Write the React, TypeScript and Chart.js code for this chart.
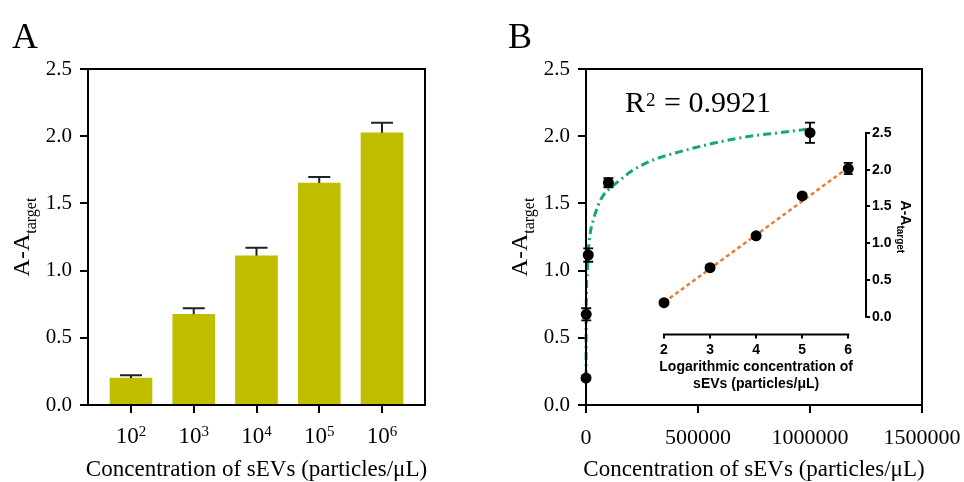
import React, { useEffect, useRef } from 'react';
import { Chart, registerables } from 'chart.js';

Chart.register(...registerables);

const SERIF = "'Liberation Serif', 'Times New Roman', serif";
const SANS = "'Liberation Sans', Arial, sans-serif";
const BLACK = '#000000';
const BAR_COLOR = '#BFBF00';
const FIT_COLOR = '#14A874';
const LIN_COLOR = '#EC7A32';

// ---------- Panel A ----------
const A_BASE = '10';
const A_EXPONENTS = ['2', '3', '4', '5', '6'];
const A_POSITIONS = [0, 1, 2, 3, 4];
const A_VALUES = [0.2, 0.675, 1.11, 1.652, 2.026];
const A_ERRORS = [0.022, 0.045, 0.06, 0.045, 0.075];
const Y_TICKS = [0, 0.5, 1.0, 1.5, 2.0, 2.5];

// ---------- Panel B ----------
const B_X = [100, 1000, 10000, 100000, 1000000];
const B_Y = [0.2, 0.675, 1.116, 1.654, 2.026];
const B_ERRORS = [0.015, 0.045, 0.05, 0.034, 0.075];
const B_X_TICKS = [0, 500000, 1000000, 1500000];
const FIT_X = [100, 1000, 5000, 10000, 20000, 32600, 54900, 77200, 107000, 152000, 211000, 300000, 420000, 568000, 717000, 866000, 1000000];
const FIT_Y = [0.2, 0.68, 0.97, 1.14, 1.29, 1.376, 1.488, 1.56, 1.612, 1.674, 1.749, 1.823, 1.885, 1.947, 1.996, 2.026, 2.055];
const R2_TEXT = '0.9921';

// ---------- Inset ----------
const LOG_X = [2, 3, 4, 5, 6];
const LOG_Y = [0.19, 0.667, 1.1, 1.644, 2.016];
const LOG_ERRORS = [0.02, 0.03, 0.03, 0.03, 0.077];
const LOG_X_TICKS = [2, 3, 4, 5, 6];
const LOG_Y_TICKS = [0, 0.5, 1.0, 1.5, 2.0, 2.5];
const LIN_X = [2, 6];
const LIN_Y = [0.195, 2.03];

const X_TITLE = 'Concentration of sEVs (particles/μL)';
const INSET_X_TITLE = ['Logarithmic concentration of', 'sEVs (particles/μL)'];

function drawSubText(ctx: CanvasRenderingContext2D, x: number, y: number, main: string, sub: string, font: string, subFont: string, angle: number, subShift: number) {
  ctx.save();
  ctx.translate(x, y);
  ctx.rotate(angle);
  ctx.textBaseline = 'alphabetic';
  ctx.textAlign = 'left';
  ctx.font = font;
  const w1 = ctx.measureText(main).width;
  ctx.font = subFont;
  const w2 = ctx.measureText(sub).width;
  const start = -(w1 + w2) / 2;
  ctx.fillStyle = BLACK;
  ctx.font = font;
  ctx.fillText(main, start, 0);
  ctx.font = subFont;
  ctx.fillText(sub, start + w1, subShift);
  ctx.restore();
}

function drawErrorBars(ctx: CanvasRenderingContext2D, xs: any, ys: any, xv: number[], yv: number[], ev: number[], half: number, upOnly: boolean, width: number, color: string) {
  ctx.save();
  ctx.strokeStyle = color;
  ctx.lineWidth = width;
  xv.forEach((x, i) => {
    const px = xs.getPixelForValue(x);
    const top = ys.getPixelForValue(yv[i] + ev[i]);
    const bot = upOnly ? ys.getPixelForValue(yv[i]) : ys.getPixelForValue(yv[i] - ev[i]);
    ctx.beginPath();
    ctx.moveTo(px, bot);
    ctx.lineTo(px, top);
    ctx.moveTo(px - half, top);
    ctx.lineTo(px + half, top);
    if (!upOnly) {
      ctx.moveTo(px - half, bot);
      ctx.lineTo(px + half, bot);
    }
    ctx.stroke();
  });
  ctx.restore();
}

function drawFrame(ctx: CanvasRenderingContext2D, ca: any) {
  ctx.save();
  ctx.strokeStyle = BLACK;
  ctx.lineWidth = 2;
  ctx.strokeRect(ca.left, ca.top, ca.right - ca.left, ca.bottom - ca.top);
  ctx.restore();
}

const yTickOptions = {
  min: 0,
  max: 2.5,
  afterBuildTicks: (s: any) => { s.ticks = Y_TICKS.map((v) => ({ value: v })); },
  afterFit: (s: any) => { s.width = 60; s.paddingTop = 0; s.paddingBottom = 0; },
  grid: { drawOnChartArea: false, drawTicks: true, tickLength: 8, color: BLACK, lineWidth: 2 },
  border: { display: true, color: BLACK, width: 2 },
  ticks: { color: BLACK, font: { family: SERIF, size: 21 }, padding: 8, callback: (v: any) => Number(v).toFixed(1) },
};

const baseOptions = {
  animation: false as const,
  responsive: false,
  devicePixelRatio: 1,
  events: [] as any[],
  plugins: { legend: { display: false }, tooltip: { enabled: false } },
};

function ChartCanvas({ config, style }: { config: () => any; style: React.CSSProperties }) {
  const ref = useRef<HTMLCanvasElement>(null);
  useEffect(() => {
    if (!ref.current) return;
    const chart = new Chart(ref.current, config());
    return () => chart.destroy();
  }, []);
  return <canvas ref={ref} width={482} height={482} style={{ position: 'absolute', width: 482, height: 482, ...style }} />;
}

function configA() {
  const plugin = {
    id: 'panelA',
    afterDatasetsDraw(chart: any) {
      const { ctx, chartArea: ca, scales } = chart;
      drawErrorBars(ctx, scales.x, scales.y, A_POSITIONS, A_VALUES, A_ERRORS, 11, true, 2, '#222');
      drawFrame(ctx, ca);
    },
    afterDraw(chart: any) {
      const { ctx, chartArea: ca, scales } = chart;
      ctx.save();
      ctx.fillStyle = BLACK;
      ctx.textBaseline = 'alphabetic';
      ctx.textAlign = 'left';
      A_POSITIONS.forEach((p, i) => {
        const px = scales.x.getPixelForValue(p);
        ctx.font = `23px ${SERIF}`;
        const w1 = ctx.measureText(A_BASE).width;
        ctx.font = `15px ${SERIF}`;
        const w2 = ctx.measureText(A_EXPONENTS[i]).width;
        const start = px - (w1 + w2) / 2;
        ctx.font = `23px ${SERIF}`;
        ctx.fillText(A_BASE, start, ca.bottom + 38);
        ctx.font = `15px ${SERIF}`;
        ctx.fillText(A_EXPONENTS[i], start + w1, ca.bottom + 31);
      });
      ctx.font = `23px ${SERIF}`;
      ctx.textAlign = 'center';
      ctx.fillText(X_TITLE, (ca.left + ca.right) / 2, ca.bottom + 71);
      ctx.textAlign = 'left';
      ctx.font = `36px ${SERIF}`;
      ctx.fillText('A', 12, 48);
      ctx.restore();
      drawSubText(ctx, ca.left - 59.5, (ca.top + ca.bottom) / 2, 'A-A', 'target', `24px ${SERIF}`, `16px ${SERIF}`, -Math.PI / 2, 7);
    },
  };
  return {
    type: 'bar',
    data: {
      datasets: [{
        data: A_VALUES.map((y, i) => ({ x: A_POSITIONS[i], y })),
        backgroundColor: BAR_COLOR,
        borderWidth: 0,
        barThickness: 42,
      }],
    },
    options: {
      ...baseOptions,
      layout: { padding: { left: 28, right: 57, top: 69, bottom: 17 } },
      scales: {
        x: {
          type: 'linear',
          offset: false,
          min: -0.685,
          max: 4.685,
          afterBuildTicks: (s: any) => { s.ticks = A_POSITIONS.map((v) => ({ value: v })); },
          afterFit: (s: any) => { s.height = 60; s.paddingLeft = 0; s.paddingRight = 0; },
          grid: { offset: false, drawOnChartArea: false, drawTicks: true, tickLength: 8, color: BLACK, lineWidth: 2 },
          border: { display: true, color: BLACK, width: 2 },
          ticks: { callback: () => '' },
        },
        y: yTickOptions,
      },
    },
    plugins: [plugin],
  };
}

function configB() {
  const plugin = {
    id: 'panelB',
    afterDatasetsDraw(chart: any) {
      const { ctx, chartArea: ca, scales } = chart;
      drawErrorBars(ctx, scales.x, scales.y, B_X, B_Y, B_ERRORS, 5, false, 1.8, BLACK);
      drawFrame(ctx, ca);
    },
    afterDraw(chart: any) {
      const { ctx, chartArea: ca } = chart;
      ctx.save();
      ctx.fillStyle = BLACK;
      ctx.textBaseline = 'alphabetic';
      ctx.font = `23px ${SERIF}`;
      ctx.textAlign = 'center';
      ctx.fillText(X_TITLE, (ca.left + ca.right) / 2, ca.bottom + 71);
      ctx.textAlign = 'left';
      ctx.font = `36px ${SERIF}`;
      ctx.fillText('B', 26, 48);
      // R^2 annotation
      const rx = ca.left + 39;
      const ry = 111.5;
      ctx.font = `30px ${SERIF}`;
      ctx.fillText('R', rx, ry);
      const wR = ctx.measureText('R').width;
      ctx.font = `19px ${SERIF}`;
      ctx.fillText('2', rx + wR + 1, ry - 6);
      const w2 = ctx.measureText('2').width;
      ctx.font = `30px ${SERIF}`;
      ctx.fillText(' = ' + R2_TEXT, rx + wR + w2 + 2, ry);
      ctx.restore();
      drawSubText(ctx, ca.left - 59, (ca.top + ca.bottom) / 2, 'A-A', 'target', `24px ${SERIF}`, `16px ${SERIF}`, -Math.PI / 2, 7);
    },
  };
  return {
    type: 'scatter',
    data: {
      datasets: [
        {
          data: B_X.map((x, i) => ({ x, y: B_Y[i] })),
          pointRadius: 5.5,
          pointBackgroundColor: BLACK,
          pointBorderWidth: 0,
          clip: false,
        },
        {
          data: FIT_X.map((x, i) => ({ x, y: FIT_Y[i] })),
          showLine: true,
          borderColor: FIT_COLOR,
          borderWidth: 3,
          borderDash: [8, 4, 2, 4],
          cubicInterpolationMode: 'monotone',
          pointRadius: 0,
          fill: false,
          clip: false,
        },
      ],
    },
    options: {
      ...baseOptions,
      layout: { padding: { left: 44, right: 42, top: 69, bottom: 17 } },
      scales: {
        x: {
          type: 'linear',
          min: 0,
          max: 1500000,
          afterBuildTicks: (s: any) => { s.ticks = B_X_TICKS.map((v) => ({ value: v })); },
          afterFit: (s: any) => { s.height = 60; s.paddingLeft = 0; s.paddingRight = 0; },
          grid: { drawOnChartArea: false, drawTicks: true, tickLength: 8, color: BLACK, lineWidth: 2 },
          border: { display: true, color: BLACK, width: 2 },
          ticks: { color: BLACK, font: { family: SERIF, size: 22 }, padding: 12, maxRotation: 0, autoSkip: false, callback: (v: any) => String(v) },
        },
        y: yTickOptions,
      },
    },
    plugins: [plugin],
  };
}

function configInset() {
  const plugin = {
    id: 'inset',
    afterDatasetsDraw(chart: any) {
      const { ctx, chartArea: ca, scales } = chart;
      const xs = scales.x;
      const ys = scales.y;
      ctx.save();
      ctx.strokeStyle = BLACK;
      ctx.lineWidth = 2;
      ctx.beginPath();
      ctx.moveTo(xs.getPixelForValue(LOG_X_TICKS[0]) - 1, ca.bottom);
      ctx.lineTo(xs.getPixelForValue(LOG_X_TICKS[LOG_X_TICKS.length - 1]) + 1, ca.bottom);
      ctx.moveTo(ca.right, ys.getPixelForValue(LOG_Y_TICKS[0]) + 1);
      ctx.lineTo(ca.right, ys.getPixelForValue(LOG_Y_TICKS[LOG_Y_TICKS.length - 1]) - 1);
      ctx.stroke();
      ctx.restore();
      drawErrorBars(ctx, xs, ys, LOG_X, LOG_Y, LOG_ERRORS, 4.5, false, 1.8, BLACK);
    },
    afterDraw(chart: any) {
      const { ctx, chartArea: ca, scales } = chart;
      const xs = scales.x;
      const cx = (xs.getPixelForValue(LOG_X_TICKS[0]) + xs.getPixelForValue(LOG_X_TICKS[LOG_X_TICKS.length - 1])) / 2;
      ctx.save();
      ctx.fillStyle = BLACK;
      ctx.textAlign = 'center';
      ctx.textBaseline = 'alphabetic';
      ctx.font = `bold 14px ${SANS}`;
      ctx.fillText(INSET_X_TITLE[0], cx, 370.5);
      ctx.fillText(INSET_X_TITLE[1], cx, 387.5);
      ctx.restore();
      drawSubText(ctx, ca.right + 35, (ca.top + 316.7) / 2 + 2, 'A-A', 'target', `bold 14px ${SANS}`, `bold 10px ${SANS}`, Math.PI / 2, 4);
    },
  };
  return {
    type: 'scatter',
    data: {
      datasets: [
        {
          data: LOG_X.map((x, i) => ({ x, y: LOG_Y[i] })),
          pointRadius: 5.5,
          pointBackgroundColor: BLACK,
          pointBorderWidth: 0,
          clip: false,
        },
        {
          data: LIN_X.map((x, i) => ({ x, y: LIN_Y[i] })),
          showLine: true,
          borderColor: LIN_COLOR,
          borderWidth: 2.5,
          borderDash: [4, 3],
          pointRadius: 0,
          clip: false,
        },
      ],
    },
    options: {
      ...baseOptions,
      layout: { padding: { left: 182, top: 133, right: 58, bottom: 117.5 } },
      scales: {
        x: {
          type: 'linear',
          position: 'bottom',
          min: 2,
          max: 6.385,
          afterBuildTicks: (s: any) => { s.ticks = LOG_X_TICKS.map((v) => ({ value: v })); },
          afterFit: (s: any) => { s.height = 30; s.paddingLeft = 0; s.paddingRight = 0; },
          grid: { drawOnChartArea: false, drawTicks: true, tickLength: 4, color: BLACK, lineWidth: 2 },
          border: { display: false },
          ticks: { color: BLACK, font: { family: SANS, size: 14, weight: 'bold' }, padding: 3, maxRotation: 0, autoSkip: false, callback: (v: any) => String(v) },
        },
        y: {
          type: 'linear',
          position: 'right',
          min: -0.243,
          max: 2.5,
          afterBuildTicks: (s: any) => { s.ticks = LOG_Y_TICKS.map((v) => ({ value: v })); },
          afterFit: (s: any) => { s.width = 40; s.paddingTop = 0; s.paddingBottom = 0; },
          grid: { drawOnChartArea: false, drawTicks: true, tickLength: 4, color: BLACK, lineWidth: 2 },
          border: { display: false },
          ticks: { color: BLACK, font: { family: SANS, size: 14, weight: 'bold' }, padding: 2, autoSkip: false, callback: (v: any) => Number(v).toFixed(1) },
        },
      },
    },
    plugins: [plugin],
  };
}

export default function App() {
  return (
    <div style={{ position: 'fixed', left: 0, top: 0, width: 964, height: 482, background: '#ffffff', overflow: 'hidden' }}>
      <ChartCanvas config={configA} style={{ left: 0, top: 0 }} />
      <ChartCanvas config={configB} style={{ left: 482, top: 0 }} />
      <ChartCanvas config={configInset} style={{ left: 482, top: 0 }} />
    </div>
  );
}
